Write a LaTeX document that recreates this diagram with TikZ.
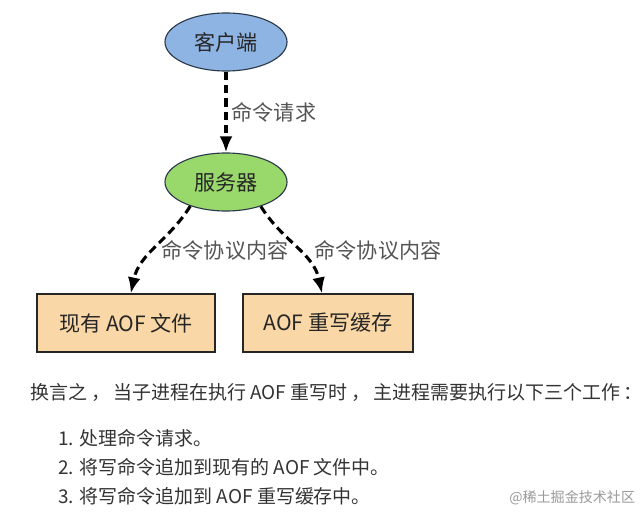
\documentclass[tikz,border=0pt]{standalone}
\usepackage{fontspec}
\setmainfont{Noto Sans CJK SC}
\usetikzlibrary{arrows.meta,positioning,calc,shapes.geometric}
\definecolor{aofblue}{HTML}{8DB4E2}
\definecolor{aofgreen}{HTML}{99D86A}
\definecolor{aofpeach}{HTML}{FAD7A6}
\definecolor{aofline}{HTML}{2B3A4A}
\definecolor{aoftext}{HTML}{333333}
\definecolor{aofgray}{HTML}{555555}
\tikzset{
  flowarrow/.style={-{Latex[length=4mm,width=3.2mm]}, line width=2.2pt,
    dash pattern=on 6pt off 3.5pt, draw=black},
  endpoint/.style={ellipse, draw=aofline, thick, minimum width=3.05cm,
    minimum height=1.45cm, inner sep=0pt, font=\fontsize{15}{18}\selectfont, text=black!85},
  store/.style={draw=black!85, thick, fill=aofpeach, minimum height=1.45cm,
    inner sep=0pt, font=\fontsize{15}{18}\selectfont, text=black!85},
  edgelabel/.style={font=\fontsize{15}{18}\selectfont, text=aofgray, inner sep=1pt},
  bodytext/.style={font=\fontsize{13.5}{16}\selectfont, text=aoftext, anchor=west, inner sep=0pt},
  stamp/.style={font=\fontsize{10}{12}\selectfont, text=black!40, anchor=west, inner sep=0pt}
}
\begin{document}
\begin{tikzpicture}[x=0.025cm, y=-0.025cm]
    \useasboundingbox (0,0) rectangle (644,525);
    \node[endpoint, fill=aofblue] (client) at (226,42) {客户端};
    \node[endpoint, fill=aofgreen] (server) at (226,182) {服务器};
    \node[store, minimum width=4.45cm] (aoffile) at (126,323) {现有 AOF 文件};
    \node[store, minimum width=4.25cm] (rewritebuf) at (328,323) {AOF 重写缓存};

    \draw[flowarrow] (client) -- (server)
        node[edgelabel, midway, anchor=west, xshift=2pt] (reqlabel) {命令请求};
    \draw[flowarrow] (server.214) to[out=238, in=78] ([xshift=0.12cm]aoffile.north);
    \draw[flowarrow] (server.325) to[out=-58, in=102] ([xshift=-0.15cm]rewritebuf.north);
    \node[edgelabel] (leftlabel) at (225,250) {命令协议内容};
    \node[edgelabel] (rightlabel) at (378,250) {命令协议内容};

    % text below the figure
    \node[bodytext] (intro) at (30,392) {换言之\hspace{3pt}，\hspace{2pt}当子进程在执行 AOF 重写时\hspace{3pt}，\hspace{2pt}主进程需要执行以下三个工作\hspace{2pt}：};
    \node[bodytext] (step1) at (58,438) {1. 处理命令请求。};
    \node[bodytext] (step2) at (58,467) {2. 将写命令追加到现有的 AOF 文件中。};
    \node[bodytext] (step3) at (58,496) {3. 将写命令追加到 AOF 重写缓存中。};
    \node[stamp] (mark) at (509,498) {@稀土掘金技术社区};
\end{tikzpicture}
\end{document}
